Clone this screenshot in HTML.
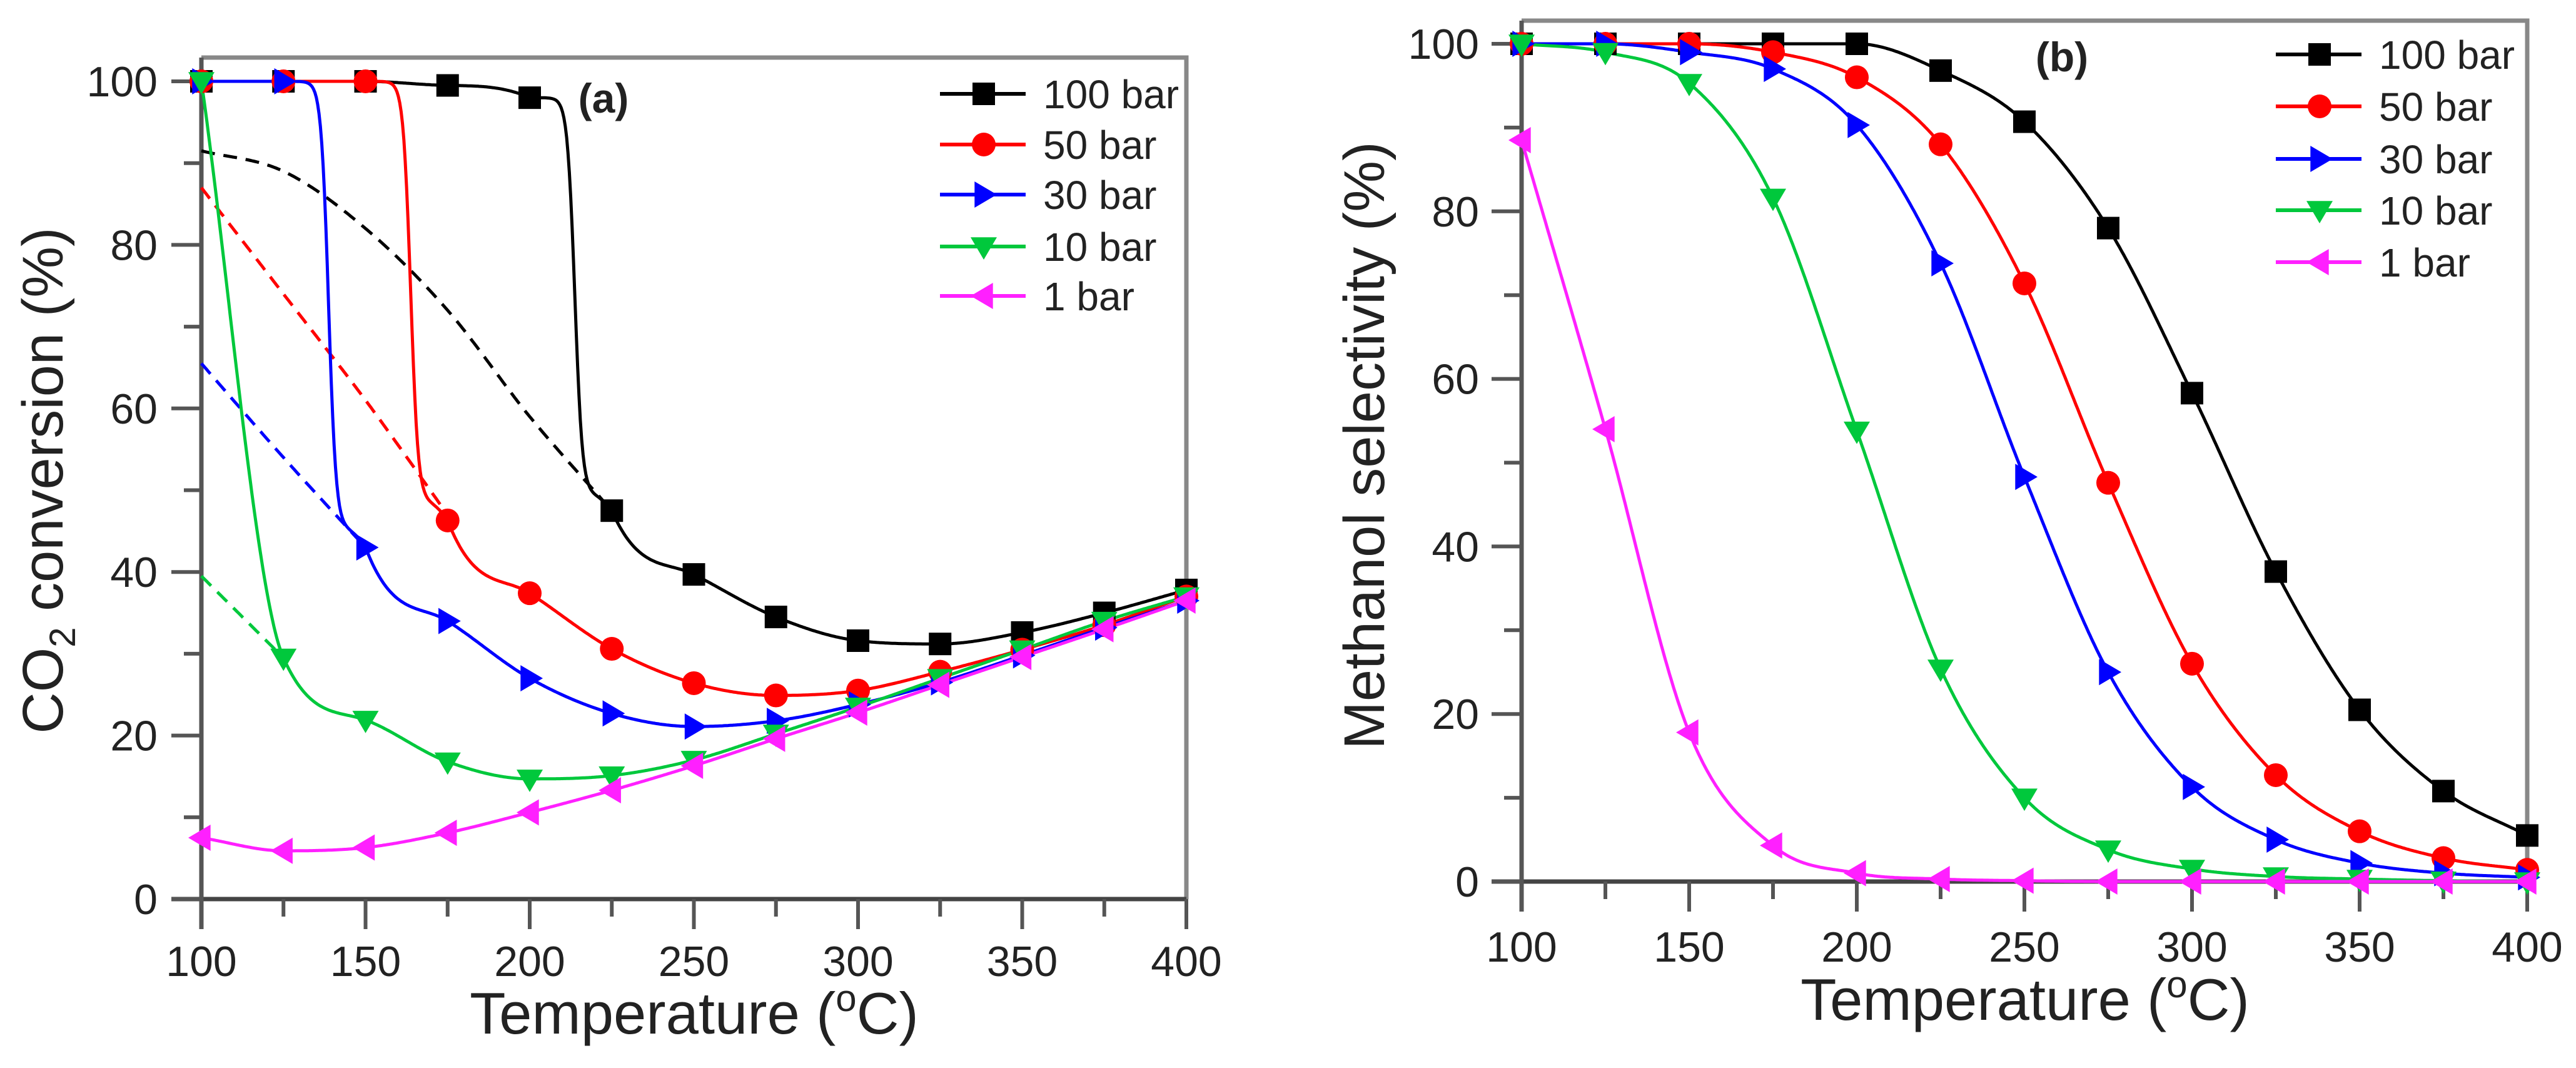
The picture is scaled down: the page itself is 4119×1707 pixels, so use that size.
<!DOCTYPE html>
<html><head><meta charset="utf-8"><style>
html,body{margin:0;padding:0;background:#fff;width:4119px;height:1707px;overflow:hidden}
svg{display:block}
text{font-family:"Liberation Sans",Arial,sans-serif;fill:#222}
</style></head><body>
<svg id="chart" width="4119" height="1707" viewBox="0 0 4119 1707" xmlns="http://www.w3.org/2000/svg"></svg>
<script>
const temps = [100,125,150,175,200,225,250,275,300,325,350,375,400];
const seriesNames = ["100 bar","50 bar","30 bar","10 bar","1 bar"];
const convA100 = [100,100,100,99.5,98,47.5,39.7,34.5,31.6,31.2,32.6,35,37.8];
const convA50  = [100,100,100,46.3,37.4,30.6,26.4,24.9,25.5,27.8,30.5,33.5,37];
const convA30  = [100,100,43,34,27,22.7,21.1,21.8,23.8,26.5,29.8,33.2,36.5];
const convA10  = [100,29.5,21.9,16.8,14.7,15.1,17,20.2,23.5,27,30.5,34,37];
const convA1   = [7.5,5.9,6.3,8.1,10.6,13.3,16.3,19.6,22.8,26.2,29.6,33,36.5];
const dashT100 = [100,125,150,175,200,225];
const dashV100 = [91.5,89,82,72,59,47.5];
const dashT50 = [100,125,150,175];
const dashV50 = [87,74,61,47];
const dashT30 = [100,125,150];
const dashV30 = [65.5,54,43];
const dashT10 = [100,125];
const dashV10 = [39.5,29.5];
const selB100 = [100,100,100,100,100,96.8,90.7,78,58.3,37,20.5,10.8,5.5];
const selB50  = [100,100,100,99,96,88,71.4,47.6,26,12.7,6,2.8,1.4];
const selB30  = [100,100,99,97,90.3,73.8,48.3,25,11.3,5,2.2,1,0.5];
const selB10  = [100,99,95.3,81.6,53.8,25.4,10,3.8,1.5,0.6,0.3,0.1,0];
const selB1   = [88.5,54,17.8,4.3,1,0.3,0.1,0,0,0,0,0,0];
const xTicks = [100,150,200,250,300,350,400];
const yTicks = [0,20,40,60,80,100];

const NS="http://www.w3.org/2000/svg";
const svg=document.getElementById('chart');
const colors=["#000000","#ff0000","#0000ff","#00c83c","#ff20ff"];
const shapes=["square","circle","right","down","left"];
function mk(tag,attrs,parent){const e=document.createElementNS(NS,tag);for(const k in attrs)e.setAttribute(k,attrs[k]);(parent||svg).appendChild(e);return e;}

function monotone(xs,ys){
  const n=xs.length,d=[],m=[];
  for(let i=0;i<n-1;i++)d.push((ys[i+1]-ys[i])/(xs[i+1]-xs[i]));
  m[0]=d[0];m[n-1]=d[n-2];
  for(let i=1;i<n-1;i++){m[i]=(d[i-1]*d[i]<=0)?0:(d[i-1]+d[i])/2;}
  for(let i=0;i<n-1;i++){if(d[i]===0){m[i]=0;m[i+1]=0;continue;}
    const a=m[i]/d[i],b=m[i+1]/d[i],s=a*a+b*b;if(s>9){const t=3/Math.sqrt(s);m[i]=t*a*d[i];m[i+1]=t*b*d[i];}}
  const pts=[];
  for(let i=0;i<n-1;i++){const h=xs[i+1]-xs[i];
    const cliff = i>0 && Math.abs(ys[i+1]-ys[i])>30 && Math.abs(ys[i]-ys[i-1])<5;
    for(let k=0;k<=60;k++){const t=k/60,t2=t*t,t3=t2*t;let y;
      if(cliff){
        const L=u=>1/(1+Math.exp(-22*(u-0.55)));
        const f=(L(t)-L(0))/(L(1)-L(0));
        const tail=(t3-t2)*h*m[i+1]*0.6*f;
        y=ys[i]+(ys[i+1]-ys[i])*f+tail;
      } else {
        y=(2*t3-3*t2+1)*ys[i]+(t3-2*t2+t)*h*m[i]+(-2*t3+3*t2)*ys[i+1]+(t3-t2)*h*m[i+1];
      }
      pts.push([xs[i]+t*h,y]);}}
  return pts;
}
function marker(g,shape,cx,cy,col,s){
  let e;
  if(shape==="square")e=mk('rect',{x:cx-s/2,y:cy-s/2,width:s,height:s,fill:col},g);
  else if(shape==="circle")e=mk('circle',{cx:cx,cy:cy,r:s/2+1,fill:col},g);
  else{let p;const r=s/2+3;
    if(shape==="right")p=[[cx-r*0.7,cy-r],[cx+r,cy],[cx-r*0.7,cy+r]];
    if(shape==="down")p=[[cx-r,cy-r*0.7],[cx+r,cy-r*0.7],[cx,cy+r]];
    if(shape==="left")p=[[cx+r*0.7,cy-r],[cx-r,cy],[cx+r*0.7,cy+r]];
    e=mk('polygon',{points:p.map(q=>q.join(',')).join(' '),fill:col},g);}
  return e;
}

function panel(cfg){
  const X=v=>cfg.x0+(v-100)*(cfg.x1-cfg.x0)/300;
  const Y=v=>cfg.y0+v*(cfg.y100-cfg.y0)/100;
  const g=mk('g',{});
  
  
  const fr=mk('path',{d:`M${cfg.x0},${cfg.top} H${cfg.x1} V${cfg.y0}`,fill:'none',stroke:'#888',"stroke-width":7},g);
  
  
  const ax=mk('line',{x1:cfg.x0-48,y1:cfg.y0,x2:cfg.x1,y2:cfg.y0,stroke:'#444',"stroke-width":7},g);
  
  
  const ay=mk('line',{x1:cfg.x0,y1:cfg.top,x2:cfg.x0,y2:cfg.y0+48,stroke:'#555',"stroke-width":7},g);
  
  
  for(let v=125;v<400;v+=50)mk('line',{x1:X(v),y1:cfg.y0,x2:X(v),y2:cfg.y0+28,stroke:'#555',"stroke-width":6},g);
  for(const v of xTicks){
    mk('line',{x1:X(v),y1:cfg.y0,x2:X(v),y2:cfg.y0+48,stroke:'#555',"stroke-width":6},g);
    const t=mk('text',{x:X(v),y:cfg.xlab,"font-size":68,"text-anchor":"middle"},g);t.textContent=v;
    
    
  }
  for(let v=10;v<100;v+=20)mk('line',{x1:cfg.x0-28,y1:Y(v),x2:cfg.x0,y2:Y(v),stroke:'#555',"stroke-width":6},g);
  for(const v of yTicks){
    mk('line',{x1:cfg.x0-48,y1:Y(v),x2:cfg.x0,y2:Y(v),stroke:'#555',"stroke-width":6},g);
    const t=mk('text',{x:cfg.ylabX,y:Y(v)+24,"font-size":68,"text-anchor":"end"},g);t.textContent=v;
    
    
  }
  (cfg.dashes||[]).forEach(dd=>{
    const pts=monotone(dd.t,dd.v);
    const p=mk('path',{d:'M'+pts.map(q=>X(q[0]).toFixed(1)+','+Y(q[1]).toFixed(1)).join(' L'),fill:'none',stroke:colors[dd.c],"stroke-width":5,"stroke-dasharray":"22,14"},g);
    
    
  });
  cfg.series.forEach((vals,i)=>{
    const pts=monotone(temps,vals);
    const p=mk('path',{d:'M'+pts.map(q=>X(q[0]).toFixed(1)+','+Y(q[1]).toFixed(1)).join(' L'),fill:'none',stroke:colors[i],"stroke-width":5},g);
    
    
  });
  cfg.series.forEach((vals,i)=>{
    vals.forEach((v,j)=>{
      const m=marker(g,shapes[i],X(temps[j]),Y(v),colors[i],36);
      
      
    });
  });
  seriesNames.forEach((nm,i)=>{
    const y=cfg.legY[i];
    const l=mk('line',{x1:cfg.legX,y1:y,x2:cfg.legX+137,y2:y,stroke:colors[i],"stroke-width":6},g);
    
    
    const m=marker(g,shapes[i],cfg.legX+70,y,colors[i],36);
    
    
    const t=mk('text',{x:cfg.legX+165,y:y+23,"font-size":64},g);t.textContent=nm;
    
    
  });
  const pl=mk('text',{x:cfg.panelX,y:cfg.panelY,"font-size":66,"font-weight":"bold","text-anchor":"middle"},g);pl.textContent=cfg.panel;
  
  
  const xt=mk('text',{x:cfg.xtX,y:cfg.xtY,"font-size":94,"text-anchor":"middle"},g);
  xt.innerHTML='Temperature (<tspan font-size="60" dy="-36">o</tspan><tspan dy="36">C)</tspan>';
  
  
  const yt=mk('text',{x:0,y:0,"font-size":92,"text-anchor":"middle",transform:`translate(${cfg.ytX},${cfg.ytY}) rotate(-90)`},g);
  yt.innerHTML=cfg.ytitle;
  
  
}

panel({name:'co2-conversion-panel',x0:322,x1:1897,y0:1437,y100:130,top:92,xlab:1560,ylabX:252,
  series:[convA100,convA50,convA30,convA10,convA1],
  dashes:[{t:dashT100,v:dashV100,c:0},{t:dashT50,v:dashV50,c:1},{t:dashT30,v:dashV30,c:2},{t:dashT10,v:dashV10,c:3}],
  legX:1503,legY:[150,231,311,394,473],panel:'(a)',panelX:965,panelY:180,
  xtX:1110,xtY:1652,ytX:100,ytY:768,ytitle:'CO<tspan font-size="58" dy="20">2</tspan><tspan dy="-20"> conversion (%)</tspan>'});
panel({name:'methanol-selectivity-panel',x0:2433,x1:4041,y0:1409,y100:70,top:33,xlab:1537,ylabX:2365,
  series:[selB100,selB50,selB30,selB10,selB1],
  legX:3639,legY:[87,170,254,336,419],panel:'(b)',panelX:3297,panelY:114,
  xtX:3238,xtY:1630,ytX:2213,ytY:712,ytitle:'Methanol selectivity (%)'});
</script>
</body></html>
